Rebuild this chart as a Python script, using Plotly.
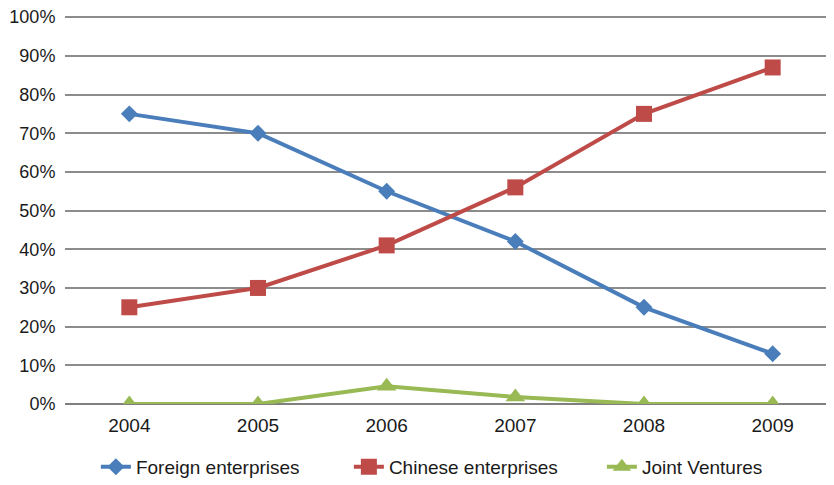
import plotly.graph_objects as go

years = [2004, 2005, 2006, 2007, 2008, 2009]
foreign = [75, 70, 55, 42, 25, 13]
chinese = [25, 30, 41, 56, 75, 87]
joint = [0, 0, 4.6, 1.8, 0, 0]
y_ticks = [0, 10, 20, 30, 40, 50, 60, 70, 80, 90, 100]
y_labels = ["0%", "10%", "20%", "30%", "40%", "50%", "60%", "70%", "80%", "90%", "100%"]

FONT = "Liberation Sans"

fig = go.Figure()
fig.add_trace(go.Scatter(x=years, y=foreign, name="Foreign enterprises", mode="lines+markers",
                         line=dict(color="#4A7EBB", width=4),
                         marker=dict(symbol="diamond", size=13, color="#4A7EBB")))
fig.add_trace(go.Scatter(x=years, y=chinese, name="Chinese enterprises", mode="lines+markers",
                         line=dict(color="#BE4B48", width=4),
                         marker=dict(symbol="square", size=16, color="#BE4B48")))
fig.add_trace(go.Scatter(x=years, y=joint, name="Joint Ventures", mode="lines+markers",
                         line=dict(color="#98B954", width=4),
                         marker=dict(symbol="triangle-up", size=17, color="#98B954")))

fig.update_layout(
    width=834, height=485,
    margin=dict(l=57, r=5, t=8, b=89, autoexpand=False),
    plot_bgcolor="white", paper_bgcolor="white",
    font=dict(family=FONT, size=18, color="#1a1a1a"),
    showlegend=True,
    legend=dict(orientation="h", x=0.04, xanchor="left", y=-0.162, yanchor="middle",
                font=dict(family=FONT, size=19), entrywidth=208, traceorder="normal"),
    xaxis=dict(range=[2003.5, 2009.5], tickvals=years, ticktext=[str(y) for y in years],
               showgrid=False, zeroline=False, showline=False, ticks="outside",
               ticklen=4, tickcolor="rgba(0,0,0,0)", automargin=False,
               tickfont=dict(family=FONT, size=19)),
    yaxis=dict(range=[0, 100.3], tickmode="array", tickvals=y_ticks, ticktext=y_labels,
               ticklabeloverflow="allow", showgrid=True, gridcolor="#8c8c8c",
               gridwidth=1.5, zeroline=True, zerolinecolor="#7f7f7f", zerolinewidth=2,
               showline=False, ticks="outside", ticklen=5, tickcolor="rgba(0,0,0,0)",
               automargin=False, tickfont=dict(family=FONT, size=18)),
)
fig.write_html("out.html")
